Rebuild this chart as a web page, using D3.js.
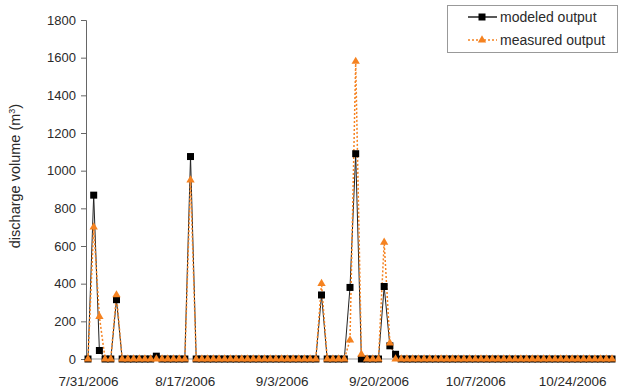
<!DOCTYPE html>
<html>
<head>
<meta charset="utf-8">
<script src="https://cdn.jsdelivr.net/npm/d3@7"></script>
<style>
  body { margin: 0; background: #fff; }
  svg { display: block; font-family: "Liberation Sans", Arial, sans-serif; }
</style>
</head>
<body>
<svg id="chart" width="619" height="389"></svg>
<script>
// daily values, 7/31/2006 .. 10/31/2006
const startDate = new Date(2006, 6, 31);
const endDate = new Date(2006, 10, 1);
const dates = d3.timeDay.range(startDate, endDate);

const modeled = [
  0, 870, 45, 0, 0, 315, 0, 0, 0, 0,
  0, 0, 15, 0, 0, 0, 0, 0, 1075, 0,
  0, 0, 0, 0, 0, 0, 0, 0, 0, 0,
  0, 0, 0, 0, 0, 0, 0, 0, 0, 0,
  0, 340, 0, 0, 0, 0, 380, 1090, 0, 0,
  0, 0, 385, 70, 25, 0, 0, 0, 0, 0,
  0, 0, 0, 0, 0, 0, 0, 0, 0, 0,
  0, 0, 0, 0, 0, 0, 0, 0, 0, 0,
  0, 0, 0, 0, 0, 0, 0, 0, 0, 0,
  0, 0, 0
];

const measured = [
  0, 700, 225, 0, 0, 340, 0, 0, 0, 0,
  0, 0, 0, 0, 0, 0, 0, 0, 950, 0,
  0, 0, 0, 0, 0, 0, 0, 0, 0, 0,
  0, 0, 0, 0, 0, 0, 0, 0, 0, 0,
  0, 400, 0, 0, 0, 0, 100, 1580, 25, 0,
  0, 0, 620, 85, 0, 0, 0, 0, 0, 0,
  0, 0, 0, 0, 0, 0, 0, 0, 0, 0,
  0, 0, 0, 0, 0, 0, 0, 0, 0, 0,
  0, 0, 0, 0, 0, 0, 0, 0, 0, 0,
  0, 0, 0
];

const yTicks = [0, 200, 400, 600, 800, 1000, 1200, 1400, 1600, 1800];
const xLabelDates = [
  new Date(2006, 6, 31), new Date(2006, 7, 17), new Date(2006, 8, 3),
  new Date(2006, 8, 20), new Date(2006, 9, 7), new Date(2006, 9, 24)
];
const seriesNames = ["modeled output", "measured output"];

const orange = "#f58220";
const textColor = "#2a2a2a";
const axisLeftX = 86, axisRightX = 615;

const svg = d3.select("#chart");

const x = d3.scaleTime()
  .domain([dates[0], dates[dates.length - 1]])
  .range([88, 612]);

const y = d3.scaleLinear()
  .domain([0, 1800])
  .range([359, 20]);

// y axis
const yAxis = svg.append("g")
  .attr("transform", `translate(${axisLeftX},0)`)
  .call(d3.axisLeft(y).tickValues(yTicks).tickSize(5).tickPadding(5).tickFormat(d3.format("d")));
yAxis.select(".domain").attr("stroke", "#666");
yAxis.selectAll(".tick line").attr("stroke", "#666");
yAxis.selectAll("text")
  .attr("fill", textColor)
  .style("font-size", "13px")
  .style("font-family", "Liberation Sans, Arial, sans-serif");

// x axis
const xAxis = svg.append("g")
  .attr("transform", `translate(0,${y(0)})`)
  .call(d3.axisBottom(x)
    .tickValues(xLabelDates)
    .tickSize(0)
    .tickPadding(17)
    .tickFormat(d3.timeFormat("%-m/%-d/%Y")));
xAxis.select(".domain")
  .attr("d", `M${axisLeftX},0H${axisRightX}`)
  .attr("stroke", "#999");
xAxis.selectAll("text")
  .attr("fill", textColor)
  .style("font-size", "13.5px")
  .style("font-family", "Liberation Sans, Arial, sans-serif");

// y title
const yTitle = svg.append("text")
  .attr("transform", "translate(20,176) rotate(-90)")
  .attr("text-anchor", "middle")
  .attr("fill", textColor)
  .style("font-size", "14.5px");
yTitle.append("tspan").text("discharge volume (m");
yTitle.append("tspan").attr("dy", "-5").style("font-size", "9px").text("3");
yTitle.append("tspan").attr("dy", "5").text(")");

const line = d3.line()
  .x((d, i) => x(dates[i]))
  .y(d => y(d));

// modeled series
svg.append("path")
  .datum(modeled)
  .attr("fill", "none")
  .attr("stroke", "#222")
  .attr("stroke-width", 1)
  .attr("d", line);

// measured series
svg.append("path")
  .datum(measured)
  .attr("fill", "none")
  .attr("stroke", orange)
  .attr("stroke-width", 1.5)
  .attr("stroke-dasharray", "2,2")
  .attr("d", line);

const square = d3.symbol().type(d3.symbolSquare).size(49);
const triangle = d3.symbol().type(d3.symbolTriangle).size(30);

svg.selectAll(".modeled")
  .data(modeled).enter()
  .append("path")
  .attr("class", "modeled")
  .attr("d", square)
  .attr("fill", "#000")
  .attr("transform", (d, i) => `translate(${x(dates[i])},${y(d)})`);

svg.selectAll(".measured")
  .data(measured).enter()
  .append("path")
  .attr("class", "measured")
  .attr("d", triangle)
  .attr("fill", orange)
  .attr("transform", (d, i) => `translate(${x(dates[i])},${y(d)})`);

// legend
const legend = svg.append("g");
legend.append("rect")
  .attr("x", 447.5).attr("y", 5.5)
  .attr("width", 170).attr("height", 47)
  .attr("fill", "#fff")
  .attr("stroke", "#999");

const legendRows = legend.selectAll(".row")
  .data(seriesNames).enter()
  .append("g")
  .attr("class", "row")
  .attr("transform", (d, i) => `translate(0,${17 + i * 23})`);

legendRows.append("line")
  .attr("x1", 468).attr("x2", 497)
  .attr("stroke", (d, i) => i === 0 ? "#222" : orange)
  .attr("stroke-width", 1.5)
  .attr("stroke-dasharray", (d, i) => i === 0 ? null : "2,2");

legendRows.append("path")
  .attr("d", (d, i) => i === 0 ? square() : triangle())
  .attr("fill", (d, i) => i === 0 ? "#000" : orange)
  .attr("transform", "translate(482,0)");

legendRows.append("text")
  .attr("x", 500)
  .attr("dy", "0.35em")
  .attr("fill", textColor)
  .style("font-size", "14px")
  .text(d => d);
</script>
</body>
</html>
